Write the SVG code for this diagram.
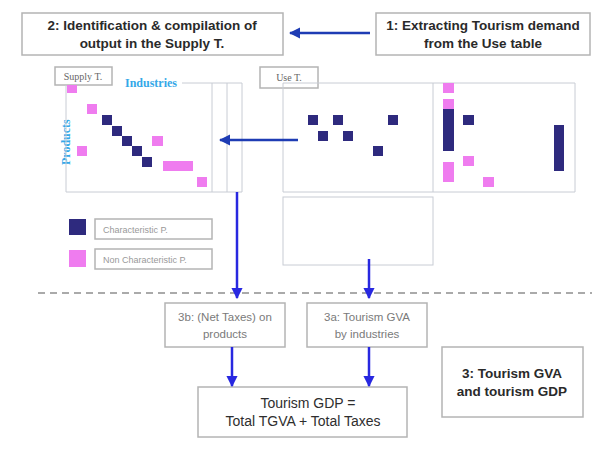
<svg xmlns="http://www.w3.org/2000/svg" width="603" height="468" viewBox="0 0 603 468">
<defs>
<style>
.box{fill:#fff;stroke:#b4b4b4;stroke-width:1.5}
.fr{fill:none;stroke:#c8ccd4;stroke-width:1}
.t{font-family:"Liberation Sans",Arial,sans-serif;text-anchor:middle}
.tb{font-size:13.5px;font-weight:bold;fill:#2a2a2a}
.tl{font-size:11.5px;fill:#7a7a7a}
.tg{font-size:14px;fill:#2e2e2e}
.dk{fill:#2e2a7e}
.pk{fill:#ef7cef}
.lb{font-family:"Liberation Serif",serif;fill:#35a8e8;font-size:12px;font-weight:bold}
.ar{stroke:#2828e0;stroke-width:2.5;fill:none}
</style>
<marker id="ah" viewBox="0 0 10 10" refX="9" refY="5" markerWidth="4.6" markerHeight="4.6" orient="auto" markerUnits="strokeWidth">
<path d="M0,0 L10,5 L0,10 z" fill="#2828e0"/>
</marker>
<marker id="ah2" viewBox="0 0 10 10" refX="9" refY="5" markerWidth="4.6" markerHeight="4.6" orient="auto" markerUnits="strokeWidth">
<path d="M0,0 L10,5 L0,10 z" fill="#1e3cb4"/>
</marker>
</defs>
<rect width="603" height="468" fill="#fff"/>

<g id="box2">
<rect class="box" x="22" y="13" width="261" height="42"/>
<text class="t tb" x="152" y="30">2: Identification &amp; compilation of</text>
<text class="t tb" x="152" y="48">output in the Supply T.</text>
</g>
<g id="box1">
<rect class="box" x="376" y="13" width="214" height="42"/>
<text class="t tb" x="483" y="30">1: Extracting Tourism demand</text>
<text class="t tb" x="483" y="48">from the Use table</text>
</g>

<g id="supply">
<rect class="box" x="55" y="67" width="57" height="18" stroke-width="1"/>
<text x="83" y="80" font-family="Liberation Serif,serif" font-size="10" fill="#666" text-anchor="middle">Supply T.</text>
<text class="lb" x="125" y="87">Industries</text>
<text class="lb" x="0" y="0" transform="translate(70,165) rotate(-90)">Products</text>
<path class="fr" d="M66,85 V192 H242 V83 H182 M212,83 V192 M227,83 V192"/>
<rect class="pk" x="67" y="85" width="10" height="8"/>
<rect class="pk" x="87" y="104" width="10" height="10"/>
<rect class="dk" x="102" y="115" width="10" height="10"/>
<rect class="dk" x="112" y="126" width="10" height="10"/>
<rect class="dk" x="122" y="136" width="10" height="10"/>
<rect class="dk" x="132" y="146" width="10" height="10"/>
<rect class="dk" x="142" y="157" width="10" height="10"/>
<rect class="pk" x="152" y="136" width="11" height="10"/>
<rect class="pk" x="77" y="146" width="10" height="10"/>
<rect class="pk" x="163" y="161" width="30" height="10"/>
<rect class="pk" x="197" y="177" width="10" height="10"/>
</g>

<g id="use">
<rect class="box" x="260" y="67" width="58" height="21" stroke-width="1"/>
<text x="289" y="81" font-family="Liberation Serif,serif" font-size="10" fill="#666" text-anchor="middle">Use T.</text>
<path class="fr" d="M283,83 H575 V192 H283 Z M433,83 V192"/>
<rect class="fr" x="283" y="197" width="150" height="68"/>
<rect class="dk" x="308" y="115" width="10" height="10"/>
<rect class="dk" x="333" y="115" width="10" height="10"/>
<rect class="dk" x="388" y="115" width="10" height="10"/>
<rect class="dk" x="318" y="131" width="10" height="10"/>
<rect class="dk" x="343" y="131" width="10" height="10"/>
<rect class="dk" x="373" y="146" width="10" height="10"/>
<rect class="pk" x="443" y="83" width="11" height="10"/>
<rect class="pk" x="443" y="99" width="11" height="10"/>
<rect class="dk" x="443" y="109" width="11" height="42"/>
<rect class="dk" x="463" y="115" width="11" height="10"/>
<rect class="pk" x="463" y="156" width="11" height="10"/>
<rect class="pk" x="443" y="162" width="11" height="20"/>
<rect class="pk" x="483" y="177" width="11" height="10"/>
<rect class="dk" x="554" y="125" width="10" height="46"/>
</g>

<g id="legend">
<rect class="dk" x="69" y="219" width="17" height="16"/>
<rect class="box" x="95" y="219" width="117" height="20" stroke-width="1"/>
<text x="103" y="233" font-family="Liberation Sans,sans-serif" font-size="9" fill="#999">Characteristic P.</text>
<rect class="pk" x="69" y="250" width="17" height="17"/>
<rect class="box" x="95" y="249" width="117" height="20" stroke-width="1"/>
<text x="103" y="263" font-family="Liberation Sans,sans-serif" font-size="9" fill="#999">Non Characteristic P.</text>
</g>

<line x1="38" y1="293" x2="592" y2="293" stroke="#aaa" stroke-width="2" stroke-dasharray="7,5"/>

<g id="box3b">
<rect class="box" x="165" y="303" width="120" height="44"/>
<text class="t tl" x="225" y="321">3b: (Net Taxes) on</text>
<text class="t tl" x="225" y="338">products</text>
</g>
<g id="box3a">
<rect class="box" x="307" y="303" width="120" height="44"/>
<text class="t tl" x="367" y="321">3a: Tourism GVA</text>
<text class="t tl" x="367" y="338">by industries</text>
</g>
<g id="gdp">
<rect class="box" x="198" y="387" width="209" height="50"/>
<text class="t tg" x="308" y="408">Tourism GDP =</text>
<text class="t tg" x="303" y="426">Total TGVA + Total Taxes</text>
</g>
<g id="box3">
<rect class="box" x="442" y="347" width="141" height="70"/>
<text class="t tb" x="512" y="378">3: Tourism GVA</text>
<text class="t tb" x="512" y="396">and tourism GDP</text>
</g>

<g id="connectors">
<line x1="370" y1="33" x2="290" y2="33" stroke="#1e3cb4" stroke-width="2.5" marker-end="url(#ah2)"/>
<line x1="298" y1="140" x2="220" y2="140" stroke="#1e3cb4" stroke-width="2.5" marker-end="url(#ah2)"/>
<line class="ar" x1="237" y1="192" x2="237" y2="298" marker-end="url(#ah)"/>
<line class="ar" x1="369" y1="259" x2="369" y2="298" marker-end="url(#ah)"/>
<line class="ar" x1="232" y1="347" x2="232" y2="386" marker-end="url(#ah)"/>
<line class="ar" x1="369" y1="347" x2="369" y2="386" marker-end="url(#ah)"/>
</g>
</svg>
